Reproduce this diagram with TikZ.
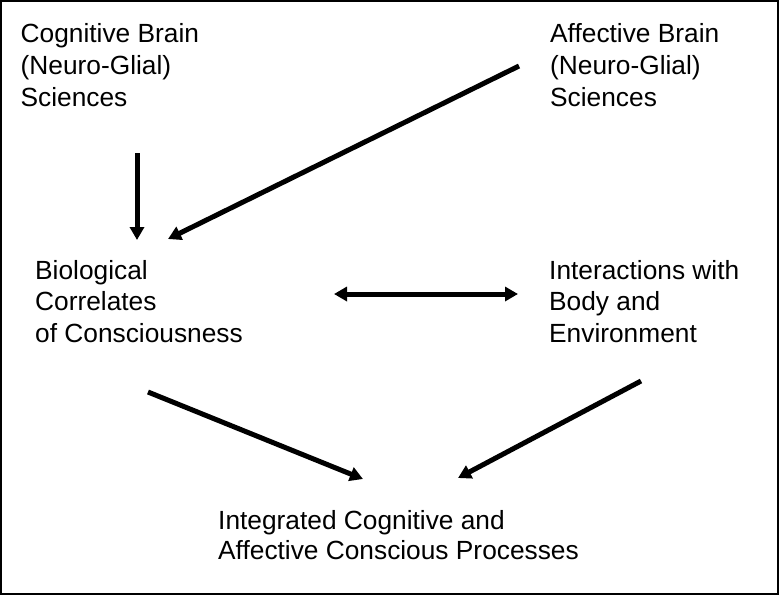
\documentclass[tikz,border=0pt]{standalone}
\usepackage{fontspec}
\setmainfont{Liberation Sans}
\usetikzlibrary{arrows.meta}
\begin{document}
\begin{tikzpicture}[x=1pt,y=-1pt,
  lbl/.style={anchor=base west,inner sep=0pt,align=left,font=\fontsize{26.3}{#1}\selectfont},
  lbl/.default=31.5,
  conn/.style={line width=5pt,-{Triangle[length=13pt,width=14pt]}},
  dconn/.style={line width=5pt,{Triangle[length=13pt,width=14pt]}-{Triangle[length=13pt,width=14pt]}}]
\useasboundingbox (0,0) rectangle (779,595);
\draw[line width=2pt] (1,1) rectangle (778,594);
\node[lbl=32] (cog) at (20.5,106) {Cognitive Brain\\(Neuro-Glial)\\Sciences};
\node[lbl=32] (aff) at (550,106) {Affective Brain\\(Neuro-Glial)\\Sciences};
\node[lbl=31.5] (bio) at (35,342) {Biological\\Correlates\\of Consciousness};
\node[lbl=31.5] (int) at (549,342) {Interactions with\\Body and\\Environment};
\node[lbl=30] (icp) at (218,559) {Integrated Cognitive and\\Affective Conscious Processes};
\coordinate (c1) at (137,153);
\coordinate (b1) at (137,240);
\coordinate (a1) at (519,66);
\coordinate (b2) at (168,239);
\coordinate (b3) at (334,294);
\coordinate (i3) at (518,294);
\coordinate (b4) at (148,392);
\coordinate (p4) at (363,479);
\coordinate (i5) at (641,381);
\coordinate (p5) at (458,478);
\draw[conn] (c1) -- (b1);
\draw[conn] (a1) -- (b2);
\draw[dconn] (b3) -- (i3);
\draw[conn] (b4) -- (p4);
\draw[conn] (i5) -- (p5);
\end{tikzpicture}
\end{document}
